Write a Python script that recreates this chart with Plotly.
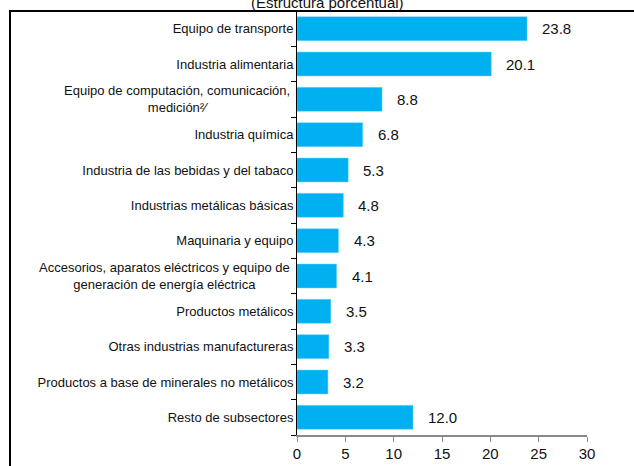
import plotly.graph_objects as go

categories = [
    "Equipo de transporte",
    "Industria alimentaria",
    "Equipo de computación, comunicación,<br>medición²⁄",
    "Industria química",
    "Industria de las bebidas y del tabaco",
    "Industrias metálicas básicas",
    "Maquinaria y equipo",
    "Accesorios, aparatos eléctricos y equipo de<br>generación de energía eléctrica",
    "Productos metálicos",
    "Otras industrias manufactureras",
    "Productos a base de minerales no metálicos",
    "Resto de subsectores",
]
values = [23.8, 20.1, 8.8, 6.8, 5.3, 4.8, 4.3, 4.1, 3.5, 3.3, 3.2, 12.0]
x_ticks = [0, 5, 10, 15, 20, 25, 30]
title_text = "(Estructura porcentual)"

W, H = 634, 466
ml, mr, mt, mb = 297, 47, 11, 31
pw, ph = W - ml - mr, H - mt - mb
FONT = "Liberation Sans, Arial"

fig = go.Figure()
fig.add_trace(go.Bar(
    y=categories, x=values, orientation="h",
    marker=dict(color="#00B0F0", line=dict(color="#7fd7f7", width=0.5)),
    width=0.68, hoverinfo="skip",
))
for c, v in zip(categories, values):
    fig.add_annotation(x=v, y=c, text=f"{v:.1f}", showarrow=False,
                       xanchor="left", xshift=13,
                       font=dict(size=15, color="#111", family=FONT))

# multi-line category labels drawn centered (as in the reference)
ticktext = []
for c in categories:
    if "<br>" in c:
        ticktext.append("")
        fig.add_annotation(x=-5 / pw, y=c, xref="paper", yref="y", text=c,
                           showarrow=False, xanchor="right", align="center",
                           font=dict(size=13, color="#111", family=FONT))
    else:
        ticktext.append(c)

fig.add_annotation(x=(327 - ml) / pw, y=1 + (mt - 2) / ph, xref="paper", yref="paper",
                   text=title_text, showarrow=False, xanchor="center", yanchor="middle",
                   font=dict(size=15, color="#111", family=FONT))

# outer frame
fig.add_shape(type="rect", xref="paper", yref="paper",
              x0=(10 - ml) / pw, x1=(W + 20 - ml) / pw,
              y0=-(mb + 20) / ph, y1=1,
              line=dict(color="black", width=2), layer="below")

fig.update_layout(
    width=W, height=H,
    margin=dict(l=ml, r=mr, t=mt, b=mb, pad=0, autoexpand=False),
    paper_bgcolor="white", plot_bgcolor="white",
    showlegend=False,
    font=dict(family=FONT, size=13, color="#111"),
    xaxis=dict(range=[0, 30], tickvals=x_ticks, ticks="outside", ticklen=5,
               tickcolor="#888", showline=True, linecolor="#888", linewidth=2,
               ticklabelstandoff=-1, automargin=False,
               showgrid=False, zeroline=False, tickfont=dict(size=15, color="#111")),
    yaxis=dict(autorange="reversed", ticks="outside", tickson="boundaries",
               tickvals=categories, ticktext=ticktext, automargin=False,
               ticklen=5, tickcolor="black", showline=True, linecolor="black",
               linewidth=1, showgrid=False, ticklabelstandoff=0,
               tickfont=dict(size=13, color="#111")),
)
fig.write_html("out.html", config={"displayModeBar": False},
               post_script="document.body.style.margin='0';document.body.style.overflow='hidden';")
